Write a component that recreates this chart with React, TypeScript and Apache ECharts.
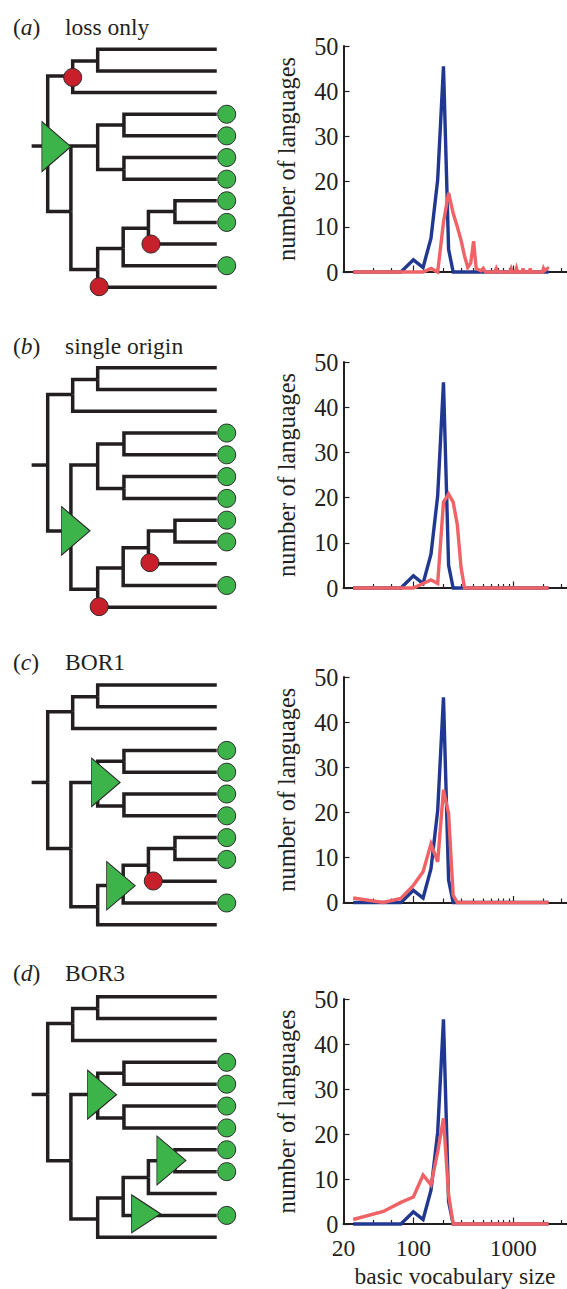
import React, { useEffect, useRef } from "react";
import * as echarts from "echarts";

// ---------------- data ----------------
const X_MIN = 20;
const X_MAX = 3400;
const X_LABEL_VALUES = [20, 100, 1000];
const X_MINOR_TICKS = [40, 60, 80, 200, 300, 400, 500, 600, 700, 800, 900, 2000, 3000];
const X_MAJOR_TICKS = [100, 1000];
const Y_MIN = 0;
const Y_MAX = 50;
const Y_STEP = 10;

// observed distribution (blue), same in every panel
const OBSERVED: [number, number][] = [
  [25, 0], [50, 0], [75, 0], [100, 2.7], [125, 1], [150, 7.5], [175, 20.4],
  [200, 45.5], [225, 5], [250, 0], [2250, 0],
];

// simulated distributions (red)
const SIM_LOSS_ONLY: [number, number][] = [
  [25, 0], [125, 0], [150, 0.8], [175, 0], [200, 11], [225, 17.5], [250, 13],
  [275, 10], [300, 7], [325, 3.5], [350, 1], [375, 2], [400, 6.8], [425, 0.8],
  [450, 0.5], [475, 0.3], [500, 0.8], [525, 0], [650, 0], [675, 0.8], [700, 0],
  [925, 0], [950, 0.7], [975, 0], [1050, 0], [1075, 0.8], [1100, 0], [1225, 0],
  [1250, 0.8], [1275, 0], [1450, 0], [1475, 0.8], [1500, 0], [1950, 0],
  [2000, 0.8], [2050, 0.3], [2200, 0.8], [2250, 0.6],
];
const SIM_SINGLE_ORIGIN: [number, number][] = [
  [25, 0], [100, 0], [125, 1], [150, 1.8], [175, 1], [200, 19], [225, 20.8],
  [250, 19], [275, 14], [300, 4.5], [325, 0], [2250, 0],
];
const SIM_BOR1: [number, number][] = [
  [25, 1], [50, 0], [75, 0.9], [100, 3.8], [125, 6.8], [150, 13], [175, 9],
  [200, 25], [225, 19.7], [250, 1.6], [275, 0], [2250, 0],
];
const SIM_BOR3: [number, number][] = [
  [25, 1], [50, 2.8], [75, 4.8], [100, 6], [125, 10.9], [150, 8.7], [175, 16],
  [200, 23.5], [225, 6.5], [250, 0], [2250, 0],
];
const SIMULATED = [SIM_LOSS_ONLY, SIM_SINGLE_ORIGIN, SIM_BOR1, SIM_BOR3];

const PANEL_LETTERS = ["a", "b", "c", "d"];
const PANEL_NAMES = ["loss only", "single origin", "BOR1", "BOR3"];
const Y_NAME = "number of languages";
const X_NAME = "basic vocabulary size";

// tree topology: depth (branch level units) and row (leaf rank units)
type TreeNode = { id: string; parent: string | null; depth: number; row: number };
const TREE_NODES: TreeNode[] = [
  { id: "root", parent: null, depth: 1.0, row: 4.47 },
  { id: "A", parent: "root", depth: 1.98, row: 1.23 },
  { id: "A1", parent: "A", depth: 2.96, row: 0.54 },
  { id: "B", parent: "root", depth: 1.91, row: 7.5 },
  { id: "C", parent: "B", depth: 2.96, row: 4.47 },
  { id: "C1", parent: "C", depth: 3.99, row: 3.5 },
  { id: "C2", parent: "C", depth: 3.99, row: 5.55 },
  { id: "D", parent: "B", depth: 2.96, row: 10.17 },
  { id: "E", parent: "D", depth: 3.96, row: 9.2 },
  { id: "F", parent: "E", depth: 4.95, row: 8.27 },
  { id: "G", parent: "F", depth: 5.99, row: 7.5 },
];
const LEAF_PARENTS = ["A1", "A1", "A", "C1", "C1", "C2", "C2", "G", "G", "F", "E", "D"];
const LEAF_TIP_DEPTH = 7.63;
const ROOT_STUB_DEPTH = 0.37;
const PRESENCE_DEPTH = 8.02;
const PRESENCE_ROWS = [3, 4, 5, 6, 7, 8, 10];
// losses (red circles) per panel: [depth, row]
const LOSSES: [number, number][][] = [
  [[1.98, 1.3], [5.05, 9.0], [3.02, 10.97]],
  [[5.01, 8.95], [3.02, 10.97]],
  [[5.14, 8.99]],
  [],
];
// origins (green triangles) per panel: [depth, row]
const ORIGINS: [number, number][][] = [
  [[1.34, 4.5]],
  [[2.1, 7.49]],
  [[3.28, 4.47], [3.87, 9.21]],
  [[3.13, 4.48], [5.85, 7.49], [4.86, 9.93]],
];

// ---------------- layout / style ----------------
const LAYOUT = {
  chartLeft: 343.5,
  chartWidth: 223,
  chartTops: [46, 362, 677, 999],
  chartHeights: [226, 226, 225.5, 226.5],
  treeLeft: 22.2,
  treeUnit: 25.5,
  treeDepthMax: 8,
  treeTops: [49.3, 367.7, 685, 996.7],
  treeRowGaps: [21.64, 21.78, 21.8, 21.87],
  titleYs: [26.7, 346, 661.7, 973.3],
  letterX: 13,
  nameX: 65,
};
const ORIGIN_SIZES: [number, number][][] = [
  [[29, 50]],
  [[28.5, 48.5]],
  [[28.5, 48.5], [28.5, 48.5]],
  [[29, 49], [29, 49], [29, 38]],
];
const INK = "#231f20";
const BLUE = "#213891";
const RED_LINE = "#ef6266";
const GREEN = "#3db44a";
const RED_DOT = "#c8202a";
const FONT = "Liberation Serif";
const FS = 23.5;
const FS_Y = 24.3;

function treeEdges() {
  const byId: Record<string, TreeNode> = {};
  TREE_NODES.forEach((n) => (byId[n.id] = n));
  const edges: { coords: number[][] }[] = [];
  TREE_NODES.forEach((n) => {
    if (n.parent) {
      const p = byId[n.parent];
      edges.push({ coords: [[p.depth, p.row], [p.depth, n.row], [n.depth, n.row]] });
    } else {
      edges.push({ coords: [[ROOT_STUB_DEPTH, n.row], [n.depth, n.row]] });
    }
  });
  LEAF_PARENTS.forEach((pid, row) => {
    const p = byId[pid];
    edges.push({ coords: [[p.depth, p.row], [p.depth, row], [LEAF_TIP_DEPTH, row]] });
  });
  return edges;
}

function buildOption() {
  const grid: any[] = [];
  const xAxis: any[] = [];
  const yAxis: any[] = [];
  const series: any[] = [];
  const graphic: any[] = [];
  const edges = treeEdges();
  const textStyle = { fontFamily: FONT, fontSize: FS, color: INK };
  const textStyleY = { fontFamily: FONT, fontSize: FS_Y, color: INK };

  for (let i = 0; i < 4; i++) {
    grid.push({
      left: LAYOUT.chartLeft,
      top: LAYOUT.chartTops[i],
      width: LAYOUT.chartWidth,
      height: LAYOUT.chartHeights[i],
      containLabel: false,
    });
  }
  for (let i = 0; i < 4; i++) {
    grid.push({
      left: LAYOUT.treeLeft,
      top: LAYOUT.treeTops[i],
      width: LAYOUT.treeUnit * LAYOUT.treeDepthMax,
      height: LAYOUT.treeRowGaps[i] * 11,
      containLabel: false,
    });
  }

  for (let i = 0; i < 4; i++) {
    const last = i === 3;
    xAxis.push({
      type: "log",
      logBase: 10,
      gridIndex: i,
      min: X_MIN,
      max: X_MAX,
      position: "bottom",
      axisLine: { show: true, onZero: false, lineStyle: { color: INK, width: 2 } },
      axisTick: {
        show: true,
        inside: true,
        length: 4,
        customValues: X_MINOR_TICKS,
        lineStyle: { color: INK, width: 1.2 },
      },
      axisLabel: {
        show: last,
        customValues: X_LABEL_VALUES,
        margin: 12,
        formatter: (v: number) => String(Math.round(v)),
        ...textStyle,
      },
      splitLine: { show: false },
      name: last ? X_NAME : "",
      nameLocation: "middle",
      nameGap: 40,
      nameTextStyle: textStyle,
    });
    xAxis.push({
      type: "log",
      logBase: 10,
      gridIndex: i,
      min: X_MIN,
      max: X_MAX,
      position: "bottom",
      axisLine: { show: false, onZero: false },
      axisTick: {
        show: true,
        inside: true,
        length: 6.5,
        customValues: X_MAJOR_TICKS,
        lineStyle: { color: INK, width: 1.2 },
      },
      axisLabel: { show: false },
      splitLine: { show: false },
    });
    yAxis.push({
      type: "value",
      gridIndex: i,
      min: Y_MIN,
      max: Y_MAX,
      interval: Y_STEP,
      axisLine: { show: true, onZero: false, lineStyle: { color: INK, width: 2 } },
      axisTick: { show: true, inside: true, length: 6, lineStyle: { color: INK, width: 1.2 } },
      axisLabel: { margin: 5, ...textStyleY },
      splitLine: { show: false },
      name: Y_NAME,
      nameLocation: "middle",
      nameRotate: 90,
      nameGap: 45,
      nameTextStyle: textStyleY,
    });
  }
  for (let i = 0; i < 4; i++) {
    xAxis.push({ type: "value", gridIndex: 4 + i, min: 0, max: LAYOUT.treeDepthMax, show: false });
    yAxis.push({ type: "value", gridIndex: 4 + i, min: 0, max: 11, inverse: true, show: false });
  }

  for (let i = 0; i < 4; i++) {
    series.push({
      type: "line",
      xAxisIndex: i * 2,
      yAxisIndex: i,
      data: OBSERVED,
      showSymbol: false,
      clip: false,
      z: 3,
      lineStyle: { color: BLUE, width: 3.4, join: "miter" },
    });
    series.push({
      type: "line",
      xAxisIndex: i * 2,
      yAxisIndex: i,
      data: SIMULATED[i],
      showSymbol: false,
      clip: false,
      z: 4,
      lineStyle: { color: RED_LINE, width: 3.4, join: "miter" },
    });
    const tx = 8 + i;
    const ty = 4 + i;
    series.push({
      type: "lines",
      coordinateSystem: "cartesian2d",
      xAxisIndex: tx,
      yAxisIndex: ty,
      polyline: true,
      silent: true,
      clip: false,
      z: 2,
      data: edges,
      lineStyle: { color: INK, width: 3.5, opacity: 1, cap: "butt", join: "miter" },
    });
    series.push({
      type: "scatter",
      xAxisIndex: tx,
      yAxisIndex: ty,
      clip: false,
      silent: true,
      z: 5,
      symbol: "circle",
      symbolSize: 18,
      data: PRESENCE_ROWS.map((r) => [PRESENCE_DEPTH, r]),
      itemStyle: { color: GREEN, borderColor: "#2b2b2b", borderWidth: 1, opacity: 1 },
    });
    series.push({
      type: "scatter",
      xAxisIndex: tx,
      yAxisIndex: ty,
      clip: false,
      silent: true,
      z: 5,
      symbol: "circle",
      symbolSize: 18,
      data: LOSSES[i],
      itemStyle: { color: RED_DOT, borderColor: "#2b2b2b", borderWidth: 1, opacity: 1 },
    });
    series.push({
      type: "scatter",
      xAxisIndex: tx,
      yAxisIndex: ty,
      clip: false,
      silent: true,
      z: 6,
      symbol: "path://M0,0L10,5L0,10Z",
      data: ORIGINS[i].map((p, k) => ({ value: p, symbolSize: ORIGIN_SIZES[i][k] })),
      itemStyle: { color: GREEN, borderColor: "#2b2b2b", borderWidth: 1, opacity: 1 },
    });

    graphic.push({
      type: "text",
      x: LAYOUT.letterX,
      y: LAYOUT.titleYs[i],
      style: {
        text: `{p|(}{it|${PANEL_LETTERS[i]}}{p|)}`,
        verticalAlign: "middle",
        fill: INK,
        fontFamily: FONT,
        fontSize: FS,
        rich: {
          p: { fontFamily: FONT, fontSize: FS, fill: INK },
          it: { fontFamily: FONT, fontSize: FS, fontStyle: "italic", fill: INK },
        },
      },
    });
    graphic.push({
      type: "text",
      x: LAYOUT.nameX,
      y: LAYOUT.titleYs[i],
      style: {
        text: PANEL_NAMES[i],
        verticalAlign: "middle",
        fill: INK,
        fontFamily: FONT,
        fontSize: FS,
      },
    });
  }

  return {
    animation: false,
    backgroundColor: "#ffffff",
    grid,
    xAxis,
    yAxis,
    series,
    graphic,
  };
}

export default function App() {
  const ref = useRef<HTMLDivElement | null>(null);
  useEffect(() => {
    if (!ref.current) return;
    const chart = echarts.init(ref.current, null, { renderer: "svg" });
    chart.setOption(buildOption() as any);
    return () => chart.dispose();
  }, []);
  return (
    <div
      ref={ref}
      style={{ position: "fixed", left: 0, top: 0, width: 567, height: 1289 }}
    />
  );
}
